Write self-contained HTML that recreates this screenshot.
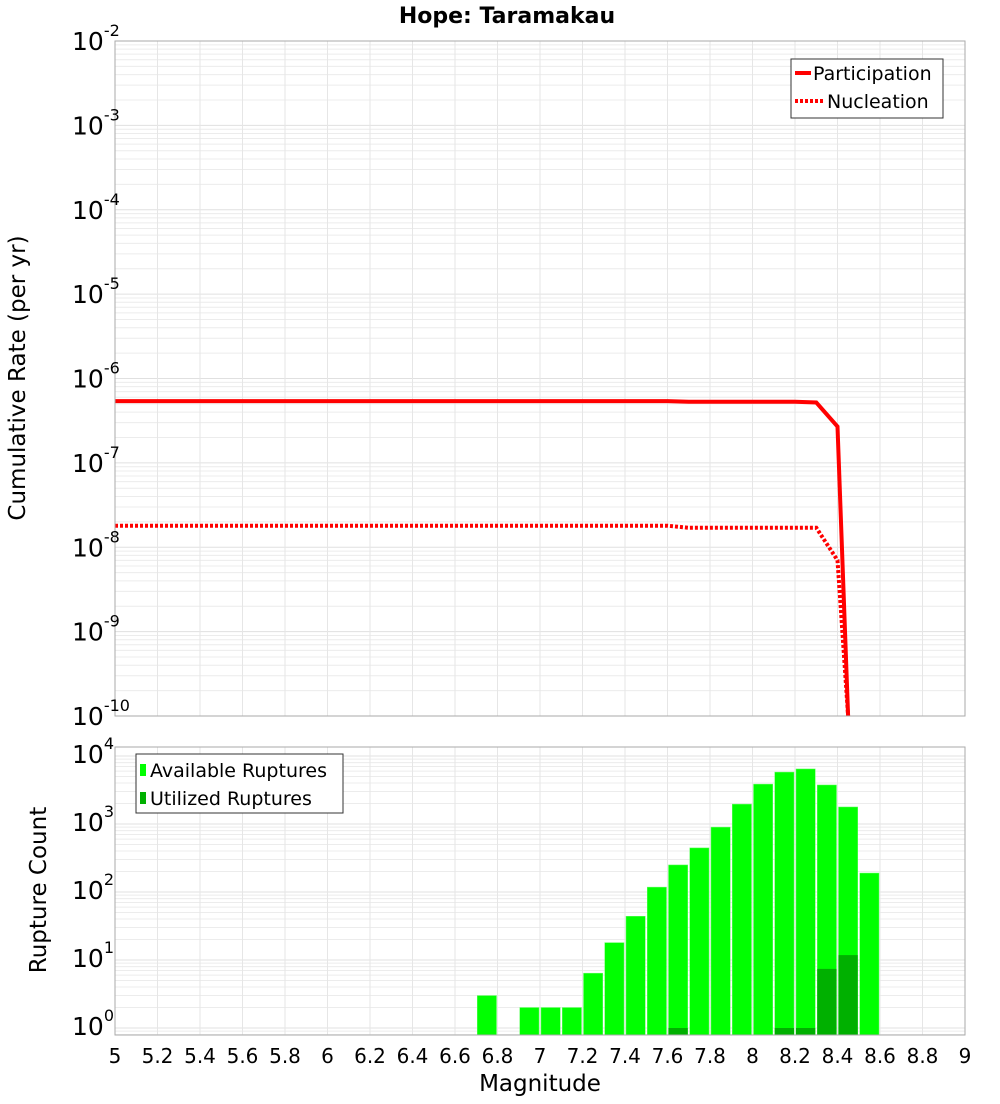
<!DOCTYPE html>
<html><head><meta charset="utf-8"><style>
body{margin:0;background:#fff;font-family:"DejaVu Sans","Liberation Sans",sans-serif}
svg text{font-family:"DejaVu Sans","Liberation Sans",sans-serif}
</style></head><body>
<svg id="c" width="1000" height="1100" xmlns="http://www.w3.org/2000/svg">
<text x="507" y="23" text-anchor="middle" font-size="22" font-weight="bold">Hope: Taramakau</text>
<text transform="translate(25,378) rotate(-90)" text-anchor="middle" font-size="23">Cumulative Rate (per yr)</text>
<text transform="translate(46,890) rotate(-90)" text-anchor="middle" font-size="23">Rupture Count</text>
<text x="540" y="1091" text-anchor="middle" font-size="23">Magnitude</text>
<g id="g"></g>
</svg>
<script>
// Top chart data
const partMag = [5.0, 7.6, 7.7, 8.2, 8.3, 8.4, 8.45];
const partRate = [5.4e-7, 5.4e-7, 5.3e-7, 5.3e-7, 5.2e-7, 2.7e-7, 5e-11];
const nuclMag = [5.0, 7.6, 7.7, 8.2, 8.3, 8.4, 8.45];
const nuclRate = [1.8e-8, 1.8e-8, 1.7e-8, 1.7e-8, 1.7e-8, 7e-9, 5e-11];
// Bottom chart data
const binStart = [6.7, 6.9, 7.0, 7.1, 7.2, 7.3, 7.4, 7.5, 7.6, 7.7, 7.8, 7.9, 8.0, 8.1, 8.2, 8.3, 8.4, 8.5];
const available = [3, 2, 2, 2, 6.4, 18, 44, 118, 250, 445, 900, 1960, 3860, 5800, 6450, 3750, 1780, 190];
const utilized = [0, 0, 0, 0, 0, 0, 0, 0, 1, 0, 0, 0, 0, 1, 1, 7.4, 11.8, 0];
const xTicks = ["5","5.2","5.4","5.6","5.8","6","6.2","6.4","6.6","6.8","7","7.2","7.4","7.6","7.8","8","8.2","8.4","8.6","8.8","9"];
const topExp = [-2,-3,-4,-5,-6,-7,-8,-9,-10];
const botExp = [0,1,2,3,4];

const NS="http://www.w3.org/2000/svg", g=document.getElementById('g');
function mk(t,a,p){const e=document.createElementNS(NS,t);for(const k in a)e.setAttribute(k,a[k]);(p||g).appendChild(e);return e;}
const X0=115,X1=965;
const xs=m=>X0+(m-5)/4*(X1-X0);
const T0=41,T1=716; const ty=v=>T0+(-2-Math.log10(v))*(T1-T0)/8;
const B0=747,B1=1035; const by=v=>1028-Math.log10(v)*68;

function grid(y0,y1,yf,lo,hi){
  for(let d=lo;d<hi;d++)for(let k=1;k<10;k++){const y=yf(k*Math.pow(10,d));if(y>=y0&&y<=y1){
    const l=mk('line',{x1:X0,x2:X1,y1:y,y2:y,stroke:k==1?'#e0e0e0':'#ececec','stroke-width':1});
    
    }}
  xTicks.forEach(t=>{const x=xs(+t);const l=mk('line',{x1:x,x2:x,y1:y0,y2:y1,stroke:'#e6e6e6'});
    
    });
}
grid(T0,T1,ty,-11,-1);
grid(B0,B1,by,-1,5);

function line(ms,rs,dash,name){
  const pts=ms.map((m,i)=>xs(m).toFixed(1)+','+Math.min(T1,ty(rs[i])).toFixed(1)).join(' ');
  const p=mk('polyline',{points:pts,fill:'none',stroke:'#ff0000','stroke-width':4,'stroke-dasharray':dash||'none'});
  
  
}
line(partMag,partRate,null,'participation-line');
line(nuclMag,nuclRate,'3,2','nucleation-line');

const bw=(X1-X0)/40;
binStart.forEach((b,i)=>{
  const x=xs(b)+1;
  const r=mk('rect',{x:x,y:by(available[i]),width:bw-2,height:B1-by(available[i]),fill:'#00ff00',stroke:'#66ff66','stroke-width':0.5});
  
  
  if(utilized[i]>0){const y=Math.min(by(utilized[i]),B1-7);
    const u=mk('rect',{x:x,y:y,width:bw-2,height:B1-y,fill:'#00b000'});
    
    }
});

[[T0,T1,'top-plot-frame'],[B0,B1,'bottom-plot-frame']].forEach(f=>{
  const r=mk('rect',{x:X0,y:f[0],width:X1-X0,height:f[1]-f[0],fill:'none',stroke:'#aaa'});
  
  });

function ylab(e,y,name){
  const t=mk('text',{x:72,y:y+9,'font-size':25});
  t.textContent='10';
  const s=mk('tspan',{dy:-14,'font-size':16},t);s.textContent=String(e);
  
  
}
topExp.forEach(e=>ylab(e,ty(Math.pow(10,e)),'top-y-tick-label'));
botExp.forEach(e=>ylab(e,by(Math.pow(10,e))-2,'bottom-y-tick-label'));
xTicks.forEach(t=>{const e=mk('text',{x:xs(+t),y:1063,'text-anchor':'middle','font-size':20});e.textContent=t;
  
  });

let lg=mk('g',{});


mk('rect',{x:791,y:59,width:152,height:59,fill:'#fff',stroke:'#333'},lg);
mk('line',{x1:795,x2:811,y1:73,y2:73,stroke:'#f00','stroke-width':4},lg);
mk('line',{x1:795,x2:823,y1:101,y2:101,stroke:'#f00','stroke-width':4,'stroke-dasharray':'3,2'},lg);
let t=mk('text',{x:813,y:80,'font-size':19},lg);t.textContent='Participation';
t=mk('text',{x:827,y:108,'font-size':19},lg);t.textContent='Nucleation';
lg=mk('g',{});


mk('rect',{x:136,y:754,width:207,height:59,fill:'#fff',stroke:'#333'},lg);
mk('rect',{x:140,y:764,width:6,height:12,fill:'#00ff00'},lg);
mk('rect',{x:140,y:792,width:6,height:12,fill:'#00b000'},lg);
t=mk('text',{x:150,y:777,'font-size':19},lg);t.textContent='Available Ruptures';
t=mk('text',{x:150,y:805,'font-size':19},lg);t.textContent='Utilized Ruptures';
</script>
</body></html>
